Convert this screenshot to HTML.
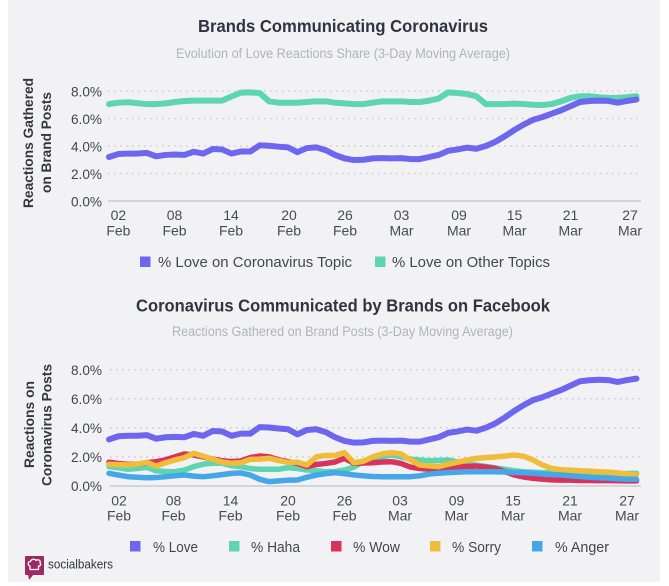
<!DOCTYPE html>
<html><head><meta charset="utf-8"><style>
html,body{margin:0;padding:0;background:#fff;}
svg{display:block;}
text{font-family:"Liberation Sans",sans-serif;}
</style></head><body>
<svg width="669" height="586" viewBox="0 0 669 586" xmlns="http://www.w3.org/2000/svg">
<rect x="0" y="0" width="669" height="586" fill="#fff"/>
<rect x="8" y="0" width="652" height="582" fill="#f2f2f4"/>

<!-- ===== Chart 1 ===== -->
<text x="198" y="32" font-size="17.5" font-weight="bold" fill="#2f3540" textLength="290" lengthAdjust="spacingAndGlyphs">Brands Communicating Coronavirus</text>
<text x="176" y="58" font-size="13.5" fill="#b0b3bb" textLength="334" lengthAdjust="spacingAndGlyphs">Evolution of Love Reactions Share (3-Day Moving Average)</text>

<g stroke="#cdced4" stroke-width="1.6" stroke-dasharray="1.6 4.4" fill="none">
<line x1="108" y1="91" x2="641" y2="91"/>
<line x1="108" y1="118.5" x2="641" y2="118.5"/>
<line x1="108" y1="146" x2="641" y2="146"/>
<line x1="108" y1="173.5" x2="641" y2="173.5"/>
</g>
<line x1="108" y1="201" x2="641" y2="201" stroke="#d4d5db" stroke-width="2"/>

<g font-size="14" fill="#40444c" text-anchor="end">
<text x="102" y="96.5" textLength="31" lengthAdjust="spacingAndGlyphs">8.0%</text>
<text x="102" y="124" textLength="31" lengthAdjust="spacingAndGlyphs">6.0%</text>
<text x="102" y="151.5" textLength="31" lengthAdjust="spacingAndGlyphs">4.0%</text>
<text x="102" y="179" textLength="31" lengthAdjust="spacingAndGlyphs">2.0%</text>
<text x="102" y="206.5" textLength="31" lengthAdjust="spacingAndGlyphs">0.0%</text>
</g>

<g font-size="14" fill="#474b53" text-anchor="middle">
<text x="118.4" y="220">02</text><text x="118.4" y="235.5">Feb</text>
<text x="174.5" y="220">08</text><text x="174.5" y="235.5">Feb</text>
<text x="231" y="220">14</text><text x="231" y="235.5">Feb</text>
<text x="289" y="220">20</text><text x="289" y="235.5">Feb</text>
<text x="345" y="220">26</text><text x="345" y="235.5">Feb</text>
<text x="401.5" y="220">03</text><text x="401.5" y="235.5">Mar</text>
<text x="459" y="220">09</text><text x="459" y="235.5">Mar</text>
<text x="514.5" y="220">15</text><text x="514.5" y="235.5">Mar</text>
<text x="570.5" y="220">21</text><text x="570.5" y="235.5">Mar</text>
<text x="630" y="220">27</text><text x="630" y="235.5">Mar</text>
</g>

<g font-size="14" font-weight="bold" fill="#33363d">
<text transform="translate(33,208) rotate(-90)" x="0" y="0" textLength="130" lengthAdjust="spacingAndGlyphs">Reactions Gathered</text>
<text transform="translate(51,193) rotate(-90)" x="0" y="0" textLength="101" lengthAdjust="spacingAndGlyphs">on Brand Posts</text>
</g>

<g transform="translate(109,201) scale(9.42,-13.75)" fill="none" stroke-linejoin="round" stroke-linecap="round">
<polyline vector-effect="non-scaling-stroke" stroke="#5dd5b0" stroke-width="6" points="0,7.05 1,7.15 2,7.18 3,7.12 4,7.05 5,7.05 6,7.1 7,7.2 8,7.27 9,7.3 10,7.3 11,7.3 12,7.3 13,7.6 14,7.88 15,7.9 16,7.85 17,7.25 18,7.15 19,7.15 20,7.15 21,7.2 22,7.25 23,7.25 24,7.15 25,7.1 26,7.05 27,7.05 28,7.15 29,7.25 30,7.25 31,7.25 32,7.2 33,7.2 34,7.3 35,7.45 36,7.9 37,7.85 38,7.78 39,7.62 40,7.05 41,7.05 42,7.05 43,7.08 44,7.05 45,7.0 46,6.98 47,7.05 48,7.25 49,7.5 50,7.62 51,7.62 52,7.55 53,7.5 54,7.5 55,7.55 56,7.62"/>
<polyline vector-effect="non-scaling-stroke" stroke="#6c67ee" stroke-width="6" points="0,3.2 1,3.42 2,3.45 3,3.45 4,3.5 5,3.25 6,3.35 7,3.38 8,3.35 9,3.58 10,3.45 11,3.78 12,3.75 13,3.45 14,3.6 15,3.6 16,4.05 17,4.02 18,3.95 19,3.9 20,3.55 21,3.85 22,3.9 23,3.7 24,3.35 25,3.1 26,2.98 27,3.0 28,3.1 29,3.12 30,3.1 31,3.12 32,3.05 33,3.05 34,3.2 35,3.35 36,3.65 37,3.75 38,3.88 39,3.8 40,4.0 41,4.3 42,4.7 43,5.15 44,5.55 45,5.9 46,6.1 47,6.35 48,6.6 49,6.9 50,7.2 51,7.27 52,7.3 53,7.28 54,7.15 55,7.28 56,7.38"/>
</g>

<rect x="140" y="256.5" width="10.5" height="10.5" fill="#6c67ee"/>
<text x="158" y="267" font-size="15" fill="#42464e" textLength="194" lengthAdjust="spacingAndGlyphs">% Love on Coronavirus Topic</text>
<rect x="375" y="256.5" width="10.5" height="10.5" fill="#5dd5b0"/>
<text x="392" y="267" font-size="15" fill="#42464e" textLength="158" lengthAdjust="spacingAndGlyphs">% Love on Other Topics</text>

<!-- ===== Chart 2 ===== -->
<text x="136" y="311.5" font-size="17.5" font-weight="bold" fill="#2f3540" textLength="414" lengthAdjust="spacingAndGlyphs">Coronavirus Communicated by Brands on Facebook</text>
<text x="172" y="336" font-size="13.5" fill="#b0b3bb" textLength="341" lengthAdjust="spacingAndGlyphs">Reactions Gathered on Brand Posts (3-Day Moving Average)</text>

<g stroke="#cdced4" stroke-width="1.6" stroke-dasharray="1.6 4.4" fill="none">
<line x1="110" y1="369.7" x2="641" y2="369.7"/>
<line x1="110" y1="398.7" x2="641" y2="398.7"/>
<line x1="110" y1="427.8" x2="641" y2="427.8"/>
<line x1="110" y1="456.9" x2="641" y2="456.9"/>
</g>
<line x1="110" y1="486" x2="641" y2="486" stroke="#d4d5db" stroke-width="2"/>

<g font-size="14" fill="#40444c" text-anchor="end">
<text x="102" y="375" textLength="31" lengthAdjust="spacingAndGlyphs">8.0%</text>
<text x="102" y="404" textLength="31" lengthAdjust="spacingAndGlyphs">6.0%</text>
<text x="102" y="433" textLength="31" lengthAdjust="spacingAndGlyphs">4.0%</text>
<text x="102" y="462" textLength="31" lengthAdjust="spacingAndGlyphs">2.0%</text>
<text x="102" y="491" textLength="31" lengthAdjust="spacingAndGlyphs">0.0%</text>
</g>

<g font-size="14" fill="#474b53" text-anchor="middle">
<text x="119" y="505.5">02</text><text x="119" y="520.5">Feb</text>
<text x="173.5" y="505.5">08</text><text x="173.5" y="520.5">Feb</text>
<text x="230.5" y="505.5">14</text><text x="230.5" y="520.5">Feb</text>
<text x="288" y="505.5">20</text><text x="288" y="520.5">Feb</text>
<text x="344.5" y="505.5">26</text><text x="344.5" y="520.5">Feb</text>
<text x="400" y="505.5">03</text><text x="400" y="520.5">Mar</text>
<text x="456.5" y="505.5">09</text><text x="456.5" y="520.5">Mar</text>
<text x="513" y="505.5">15</text><text x="513" y="520.5">Mar</text>
<text x="570" y="505.5">21</text><text x="570" y="520.5">Mar</text>
<text x="627" y="505.5">27</text><text x="627" y="520.5">Mar</text>
</g>

<g font-size="14" font-weight="bold" fill="#33363d">
<text transform="translate(34,468) rotate(-90)" x="0" y="0" textLength="87" lengthAdjust="spacingAndGlyphs">Reactions on</text>
<text transform="translate(51.5,486) rotate(-90)" x="0" y="0" textLength="122" lengthAdjust="spacingAndGlyphs">Coronavirus Posts</text>
</g>

<g transform="translate(109,486) scale(9.42,-14.55)" fill="none" stroke-linejoin="round" stroke-linecap="round">
<polyline vector-effect="non-scaling-stroke" stroke="#6c67ee" stroke-width="6" points="0,3.2 1,3.42 2,3.45 3,3.45 4,3.5 5,3.25 6,3.35 7,3.38 8,3.35 9,3.58 10,3.45 11,3.78 12,3.75 13,3.45 14,3.6 15,3.6 16,4.05 17,4.02 18,3.95 19,3.9 20,3.55 21,3.85 22,3.9 23,3.7 24,3.35 25,3.1 26,2.98 27,3.0 28,3.1 29,3.12 30,3.1 31,3.12 32,3.05 33,3.05 34,3.2 35,3.35 36,3.65 37,3.75 38,3.88 39,3.8 40,4.0 41,4.3 42,4.7 43,5.15 44,5.55 45,5.9 46,6.1 47,6.35 48,6.6 49,6.9 50,7.2 51,7.27 52,7.3 53,7.28 54,7.15 55,7.28 56,7.38"/>
<polyline vector-effect="non-scaling-stroke" stroke="#5dd5b0" stroke-width="5.5" points="0,1.33 1,1.25 2,1.15 3,1.2 4,1.28 5,1.05 6,1.0 7,0.98 8,1.1 9,1.33 10,1.5 11,1.56 12,1.56 13,1.4 14,1.33 15,1.2 16,1.15 17,1.15 18,1.15 19,1.26 20,1.2 21,1.1 22,1.05 23,0.98 24,1.0 25,1.1 26,1.3 27,1.67 28,1.8 29,2.0 30,2.13 31,2.0 32,1.85 33,1.79 34,1.74 35,1.76 36,1.79 37,1.65 38,1.5 39,1.44 40,1.35 41,1.25 42,1.15 43,1.05 44,0.98 45,0.95 46,0.92 47,0.9 48,0.88 49,0.87 50,0.86 51,0.85 52,0.85 53,0.85 54,0.85 55,0.86 56,0.88"/>
<polyline vector-effect="non-scaling-stroke" stroke="#d9335d" stroke-width="5.5" points="0,1.63 1,1.55 2,1.49 3,1.5 4,1.6 5,1.67 6,1.8 7,2.0 8,2.2 9,2.13 10,2.0 11,1.85 12,1.74 13,1.68 14,1.72 15,1.95 16,2.06 17,2.0 18,1.8 19,1.68 20,1.55 21,1.33 22,1.48 23,1.55 24,1.65 25,1.9 26,1.56 27,1.58 28,1.6 29,1.65 30,1.67 31,1.55 32,1.3 33,1.2 34,1.15 35,1.2 36,1.26 37,1.3 38,1.35 39,1.37 40,1.3 41,1.21 42,1.0 43,0.76 44,0.62 45,0.53 46,0.47 47,0.42 48,0.4 49,0.4 50,0.38 51,0.38 52,0.37 53,0.37 54,0.36 55,0.35 56,0.35"/>
<polyline vector-effect="non-scaling-stroke" stroke="#f0bd3a" stroke-width="5.5" points="0,1.49 1,1.47 2,1.44 3,1.5 4,1.63 5,1.37 6,1.6 7,1.79 8,1.95 9,2.25 10,2.05 11,1.83 12,1.65 13,1.56 14,1.6 15,1.83 16,1.85 17,1.9 18,1.75 19,1.63 20,1.63 21,1.44 22,2.0 23,2.1 24,2.1 25,2.29 26,1.6 27,1.7 28,2.0 29,2.2 30,2.29 31,2.2 32,1.8 33,1.44 34,1.38 35,1.33 36,1.5 37,1.63 38,1.78 39,1.9 40,1.95 41,2.0 42,2.05 43,2.13 44,2.05 45,1.79 46,1.45 47,1.2 48,1.12 49,1.08 50,1.05 51,1.02 52,0.98 53,0.95 54,0.9 55,0.82 56,0.78"/>
<polyline vector-effect="non-scaling-stroke" stroke="#45a7e8" stroke-width="5.5" points="0,0.87 1,0.75 2,0.64 3,0.6 4,0.57 5,0.58 6,0.64 7,0.7 8,0.76 9,0.68 10,0.64 11,0.7 12,0.78 13,0.87 14,0.9 15,0.75 16,0.46 17,0.3 18,0.35 19,0.4 20,0.41 21,0.6 22,0.75 23,0.85 24,0.92 25,0.85 26,0.76 27,0.7 28,0.65 29,0.64 30,0.64 31,0.64 32,0.64 33,0.7 34,0.82 35,0.88 36,0.92 37,0.95 38,0.98 39,0.98 40,0.98 41,0.98 42,0.96 43,0.94 44,0.92 45,0.88 46,0.82 47,0.78 48,0.76 49,0.7 50,0.65 51,0.6 52,0.57 53,0.54 54,0.5 55,0.47 56,0.46"/>
</g>

<g font-size="15" fill="#42464e">
<rect x="130" y="541" width="10.5" height="10.5" fill="#6c67ee"/>
<text x="153" y="552" textLength="45" lengthAdjust="spacingAndGlyphs">% Love</text>
<rect x="229" y="541" width="10.5" height="10.5" fill="#5dd5b0"/>
<text x="251" y="552" textLength="49" lengthAdjust="spacingAndGlyphs">% Haha</text>
<rect x="331" y="541" width="10.5" height="10.5" fill="#d9335d"/>
<text x="353" y="552" textLength="47" lengthAdjust="spacingAndGlyphs">% Wow</text>
<rect x="430" y="541" width="10.5" height="10.5" fill="#f0bd3a"/>
<text x="452" y="552" textLength="49" lengthAdjust="spacingAndGlyphs">% Sorry</text>
<rect x="532" y="541" width="10.5" height="10.5" fill="#45a7e8"/>
<text x="555" y="552" textLength="54" lengthAdjust="spacingAndGlyphs">% Anger</text>
</g>

<!-- logo -->
<rect x="25" y="556" width="19" height="19" rx="1" fill="#9c2a63"/>
<polygon points="28,574 34,574 29,580" fill="#9c2a63"/>
<path d="M30,569.5 L30,566 C27.5,565.5 27.5,561.5 30.5,561.5 C31,559 35,558.5 36,560.5 C37.5,559 41,560 40,563 C41.5,564.5 40,566.5 38.5,566 L38.5,569.5 Z" fill="none" stroke="#fff" stroke-width="1.3" stroke-linejoin="round"/>
<text x="48" y="568.5" font-size="13" fill="#33363d" textLength="65" lengthAdjust="spacingAndGlyphs">socialbakers</text>
</svg>
</body></html>
